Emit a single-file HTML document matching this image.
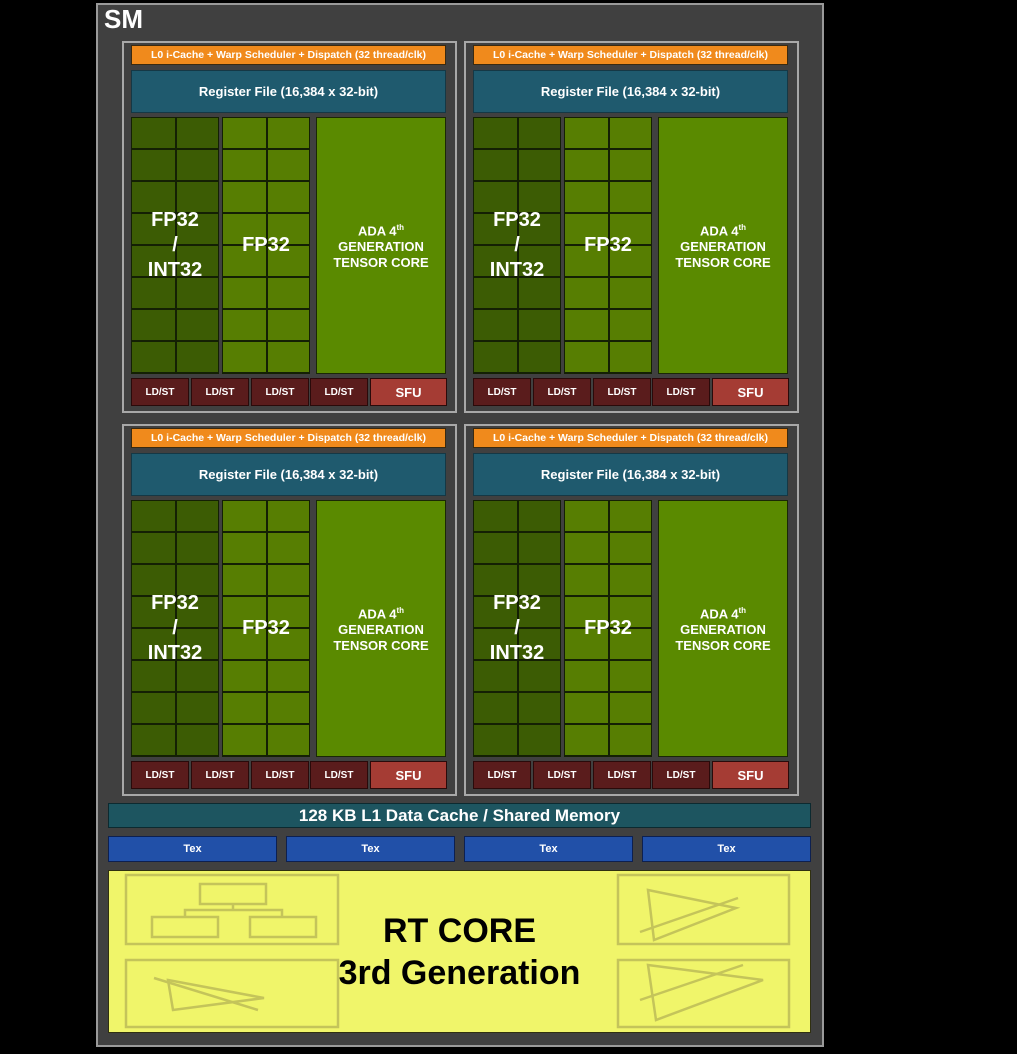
<!DOCTYPE html>
<html><head><style>
*{margin:0;padding:0;box-sizing:border-box}
body{width:1017px;height:1054px;background:#000;position:relative;overflow:hidden;font-family:"Liberation Sans",sans-serif;font-weight:bold;color:#fff}
.a{position:absolute}
#sm{left:96px;top:3px;width:728px;height:1044px;background:#404040;border:2px solid #9a9a9a}
.q{position:absolute;width:335px;height:372px;border:2px solid #a8a8a8}
.q>div{position:absolute;display:flex;align-items:center;justify-content:center;text-align:center}
.or{left:7px;top:2px;width:315px;height:20px;background:#f08a1c;border:1px solid #3a2a10;font-size:10.5px}
.rf{left:7px;top:27px;width:315px;height:43px;background:#1f5a6e;border:1px solid #153845;font-size:13px;font-weight:bold}
.g{top:74px;height:257px;width:88px;border:1px solid #142004;font-size:20px;line-height:25px;
background-image:repeating-linear-gradient(to bottom,transparent 0 30px,#142004 30px 32px),linear-gradient(to right,transparent 43px,#142004 43px 45px,transparent 45px)}
.g1{left:7px;background-color:#3c5c04}
.g2{left:98px;background-color:#577e02}
.tc{left:192px;top:74px;width:130px;height:257px;background:#5a8a00;border:1px solid #1a2805;font-size:13px;line-height:16px}
.tc span{display:block}
.ld{top:335px;height:28px;width:58px;background:#5a1c1c;border:1px solid #2a0a0a;font-size:10px}
.sfu{left:246px;top:335px;width:77px;height:28px;background:#a53c34;border:1px solid #2a0a0a;font-size:13px}
.tex{top:836px;height:26px;width:169px;background:#2150a8;border:1px solid #0d2050;font-size:11px;display:flex;align-items:center;justify-content:center}
</style></head><body>
<div id="sm" class="a"></div>
<div class="a" style="left:104px;top:4px;font-size:26px;color:#fff">SM</div>

<div class="q" style="left:122px;top:41px">
<div class="or">L0 i-Cache + Warp Scheduler + Dispatch (32 thread/clk)</div>
<div class="rf">Register File (16,384 x 32-bit)</div>
<div class="g g1">FP32<br>/<br>INT32</div>
<div class="g g2">FP32</div>
<div class="tc"><span>ADA 4<sup style="font-size:8px">th</sup><br>GENERATION<br>TENSOR CORE</span></div>
<div class="ld" style="left:7px">LD/ST</div><div class="ld" style="left:67px">LD/ST</div><div class="ld" style="left:127px">LD/ST</div><div class="ld" style="left:186px">LD/ST</div>
<div class="sfu">SFU</div>
</div>
<div class="q" style="left:464px;top:41px">
<div class="or">L0 i-Cache + Warp Scheduler + Dispatch (32 thread/clk)</div>
<div class="rf">Register File (16,384 x 32-bit)</div>
<div class="g g1">FP32<br>/<br>INT32</div>
<div class="g g2">FP32</div>
<div class="tc"><span>ADA 4<sup style="font-size:8px">th</sup><br>GENERATION<br>TENSOR CORE</span></div>
<div class="ld" style="left:7px">LD/ST</div><div class="ld" style="left:67px">LD/ST</div><div class="ld" style="left:127px">LD/ST</div><div class="ld" style="left:186px">LD/ST</div>
<div class="sfu">SFU</div>
</div>
<div class="q" style="left:122px;top:424px">
<div class="or">L0 i-Cache + Warp Scheduler + Dispatch (32 thread/clk)</div>
<div class="rf">Register File (16,384 x 32-bit)</div>
<div class="g g1">FP32<br>/<br>INT32</div>
<div class="g g2">FP32</div>
<div class="tc"><span>ADA 4<sup style="font-size:8px">th</sup><br>GENERATION<br>TENSOR CORE</span></div>
<div class="ld" style="left:7px">LD/ST</div><div class="ld" style="left:67px">LD/ST</div><div class="ld" style="left:127px">LD/ST</div><div class="ld" style="left:186px">LD/ST</div>
<div class="sfu">SFU</div>
</div>
<div class="q" style="left:464px;top:424px">
<div class="or">L0 i-Cache + Warp Scheduler + Dispatch (32 thread/clk)</div>
<div class="rf">Register File (16,384 x 32-bit)</div>
<div class="g g1">FP32<br>/<br>INT32</div>
<div class="g g2">FP32</div>
<div class="tc"><span>ADA 4<sup style="font-size:8px">th</sup><br>GENERATION<br>TENSOR CORE</span></div>
<div class="ld" style="left:7px">LD/ST</div><div class="ld" style="left:67px">LD/ST</div><div class="ld" style="left:127px">LD/ST</div><div class="ld" style="left:186px">LD/ST</div>
<div class="sfu">SFU</div>
</div>

<div class="a" style="left:108px;top:803px;width:703px;height:25px;background:#1d5560;border:1px solid #0c2a30;font-size:17px;display:flex;align-items:center;justify-content:center">128 KB L1 Data Cache / Shared Memory</div>
<div class="a tex" style="left:108px">Tex</div>
<div class="a tex" style="left:286px">Tex</div>
<div class="a tex" style="left:464px">Tex</div>
<div class="a tex" style="left:642px">Tex</div>

<div class="a" style="left:108px;top:870px;width:703px;height:163px;background:#f0f56a;border:1px solid #303010"></div>
<svg class="a" style="left:108px;top:870px" width="703" height="163" fill="none" stroke="#c4c45a" stroke-width="2.5">
<rect x="18" y="5" width="212" height="69"/>
<rect x="92" y="14" width="66" height="20"/>
<polyline points="125,34 125,40"/><polyline points="77,47 77,40 174,40 174,47"/>
<rect x="44" y="47" width="66" height="20"/><rect x="142" y="47" width="66" height="20"/>
<rect x="18" y="90" width="212" height="67"/>
<polygon points="60,110 156,128 65,140"/><line x1="46" y1="108" x2="150" y2="140"/>
<rect x="510" y="5" width="171" height="69"/>
<polygon points="540,20 628,38 546,70"/><line x1="532" y1="62" x2="630" y2="28"/>
<rect x="510" y="90" width="171" height="67"/>
<polygon points="540,95 655,110 548,150"/><line x1="532" y1="130" x2="635" y2="95"/>
</svg>
<div class="a" style="left:108px;top:910px;width:703px;text-align:center;color:#000;font-size:34px;line-height:42px">RT CORE<br>3rd Generation</div>
</body></html>
